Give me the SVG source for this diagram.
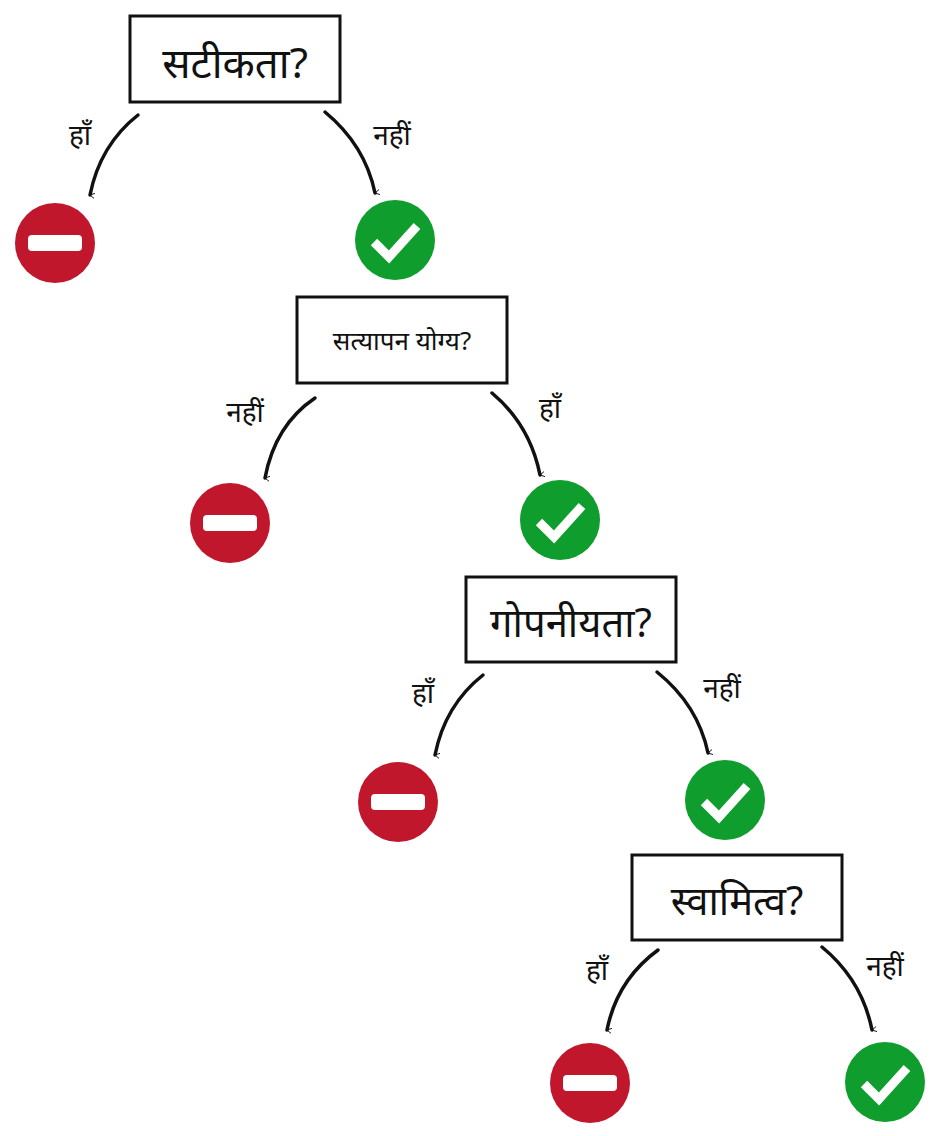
<svg xmlns="http://www.w3.org/2000/svg" width="937" height="1136" viewBox="0 0 937 1136">
<defs>
<style>
.box{fill:#fff;stroke:#111;stroke-width:3}
.t{font-family:"Noto Sans","Noto Sans Devanagari",sans-serif;fill:#111;text-anchor:middle}
.lab{font-family:"Noto Sans","Noto Sans Devanagari",sans-serif;font-size:28px;fill:#111;text-anchor:middle}
.arr{fill:none;stroke:#111;stroke-width:3.5;stroke-linecap:round;marker-end:url(#ah)}
.red{fill:#c0172d}
.green{fill:#0f9d2e}
</style>
<marker id="ah" viewBox="0 0 12 12" refX="6" refY="10" markerWidth="6" markerHeight="6" orient="auto-start-reverse" markerUnits="userSpaceOnUse">
<path d="M1,1 L6,10 L11,1" fill="none" stroke="#111" stroke-width="1.8" stroke-linecap="round"/>
</marker>
<g id="no"><circle r="40" class="red"/><rect x="-27" y="-8" width="54" height="16" rx="4" fill="#fff"/></g>
<g id="yes"><circle r="40" class="green"/><path d="M-21,2 L-6,17 L22,-14" fill="none" stroke="#fff" stroke-width="9"/></g>
</defs>
<rect width="937" height="1136" fill="#fff"/>
<g id="connectors">
<path class="arr" d="M138,115 Q100,145 90,195" transform=""/>
<path class="arr" d="M325,112 Q365,145 375,193"/>
<path class="arr" d="M315,398 Q275,425 265,478"/>
<path class="arr" d="M492,393 Q530,425 540,475"/>
<path class="arr" d="M483,675 Q445,705 435,755"/>
<path class="arr" d="M657,672 Q698,705 708,753"/>
<path class="arr" d="M658,950 Q617,980 607,1030"/>
<path class="arr" d="M822,947 Q862,980 872,1030"/>
<text class="lab" x="80" y="145">हाँ</text>
<text class="lab" x="392" y="145">नहीं</text>
<text class="lab" x="245" y="422">नहीं</text>
<text class="lab" x="550" y="418">हाँ</text>
<text class="lab" x="423" y="703">हाँ</text>
<text class="lab" x="722" y="698">नहीं</text>
<text class="lab" x="597" y="980">हाँ</text>
<text class="lab" x="885" y="976">नहीं</text>
</g>
<g id="q1"><rect class="box" x="130" y="16" width="210" height="86"/><text class="t" x="235" y="78" font-size="42">सटीकता?</text></g>
<g id="q2"><rect class="box" x="297" y="297" width="210" height="86"/><text class="t" x="402" y="350" font-size="26">सत्यापन योग्य?</text></g>
<g id="q3"><rect class="box" x="466" y="577" width="210" height="85"/><text class="t" x="571" y="637" font-size="40">गोपनीयता?</text></g>
<g id="q4"><rect class="box" x="632" y="855" width="210" height="85"/><text class="t" x="737" y="915" font-size="40">स्वामित्व?</text></g>
<g id="n1"><use href="#no" x="55" y="243"/></g>
<g id="y1"><use href="#yes" x="395" y="240"/></g>
<g id="n2"><use href="#no" x="230" y="523"/></g>
<g id="y2"><use href="#yes" x="560" y="520"/></g>
<g id="n3"><use href="#no" x="398" y="802"/></g>
<g id="y3"><use href="#yes" x="725" y="800"/></g>
<g id="n4"><use href="#no" x="590" y="1083"/></g>
<g id="y4"><use href="#yes" x="885" y="1082"/></g>
</svg>
